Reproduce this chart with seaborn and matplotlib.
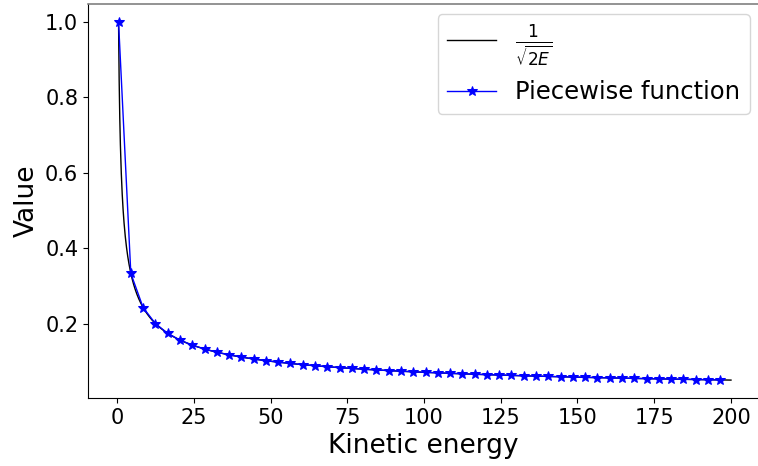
import numpy as np
import matplotlib
matplotlib.use("Agg")
import matplotlib.pyplot as plt
import seaborn as sns

# Sample points of the piecewise approximation
piece_energy = [0.5, 4.5, 8.5, 12.5, 16.5, 20.5, 24.5, 28.5, 32.5, 36.5,
                40.5, 44.5, 48.5, 52.5, 56.5, 60.5, 64.5, 68.5, 72.5, 76.5,
                80.5, 84.5, 88.5, 92.5, 96.5, 100.5, 104.5, 108.5, 112.5, 116.5,
                120.5, 124.5, 128.5, 132.5, 136.5, 140.5, 144.5, 148.5, 152.5, 156.5,
                160.5, 164.5, 168.5, 172.5, 176.5, 180.5, 184.5, 188.5, 192.5, 196.5]
piece_value = [1.000, 0.333, 0.2425, 0.200, 0.1741, 0.1562, 0.1429, 0.1325, 0.1240, 0.1170,
               0.1111, 0.1060, 0.1015, 0.0976, 0.0941, 0.0909, 0.0880, 0.0854, 0.0830, 0.0808,
               0.0788, 0.0769, 0.0752, 0.0735, 0.0720, 0.0705, 0.0692, 0.0679, 0.0667, 0.0655,
               0.0644, 0.0634, 0.0624, 0.0614, 0.0605, 0.0597, 0.0588, 0.0580, 0.0573, 0.0565,
               0.0558, 0.0551, 0.0545, 0.0538, 0.0532, 0.0526, 0.0521, 0.0515, 0.0510, 0.0504]

# Exact curve 1/sqrt(2E) over the energy range
e_min, e_max = 0.5, 200.0
energy = np.linspace(e_min, e_max, 2000)
exact = 1.0 / np.sqrt(2.0 * energy)

fig = plt.figure(figsize=(7.58, 4.66), dpi=100)
ax = fig.add_axes([88 / 758, 1 - 398 / 466, 1 - 88 / 758, (398 - 4) / 466])

sns.lineplot(x=energy, y=exact, ax=ax, color="black", linewidth=1.0,
             label=r"$\frac{1}{\sqrt{2E}}$", sort=False, estimator=None)
sns.lineplot(x=piece_energy, y=piece_value, ax=ax, color="blue", linewidth=1.0,
             marker="*", markersize=7.5, markeredgecolor="blue",
             label="Piecewise function", sort=False, estimator=None)

ax.set_xlabel("Kinetic energy", fontsize=19)
ax.set_ylabel("Value", fontsize=19)
ax.set_xticks([0, 25, 50, 75, 100, 125, 150, 175, 200])
ax.set_yticks([0.2, 0.4, 0.6, 0.8, 1.0])
ax.set_xlim(-9.45, 208.8)
ax.set_ylim(0.0025, 1.0475)
ax.tick_params(labelsize=15)
ax.spines["right"].set_visible(False)
ax.spines["top"].set_color("#808080")
ax.spines["top"].set_linewidth(1.2)
ax.legend(loc="upper right", fontsize=17.5, bbox_to_anchor=(750 / 758, 0.5, 0.0, 0.47),
          bbox_transform=fig.transFigure, borderaxespad=0.0)

fig.savefig("out.png", dpi=100)
